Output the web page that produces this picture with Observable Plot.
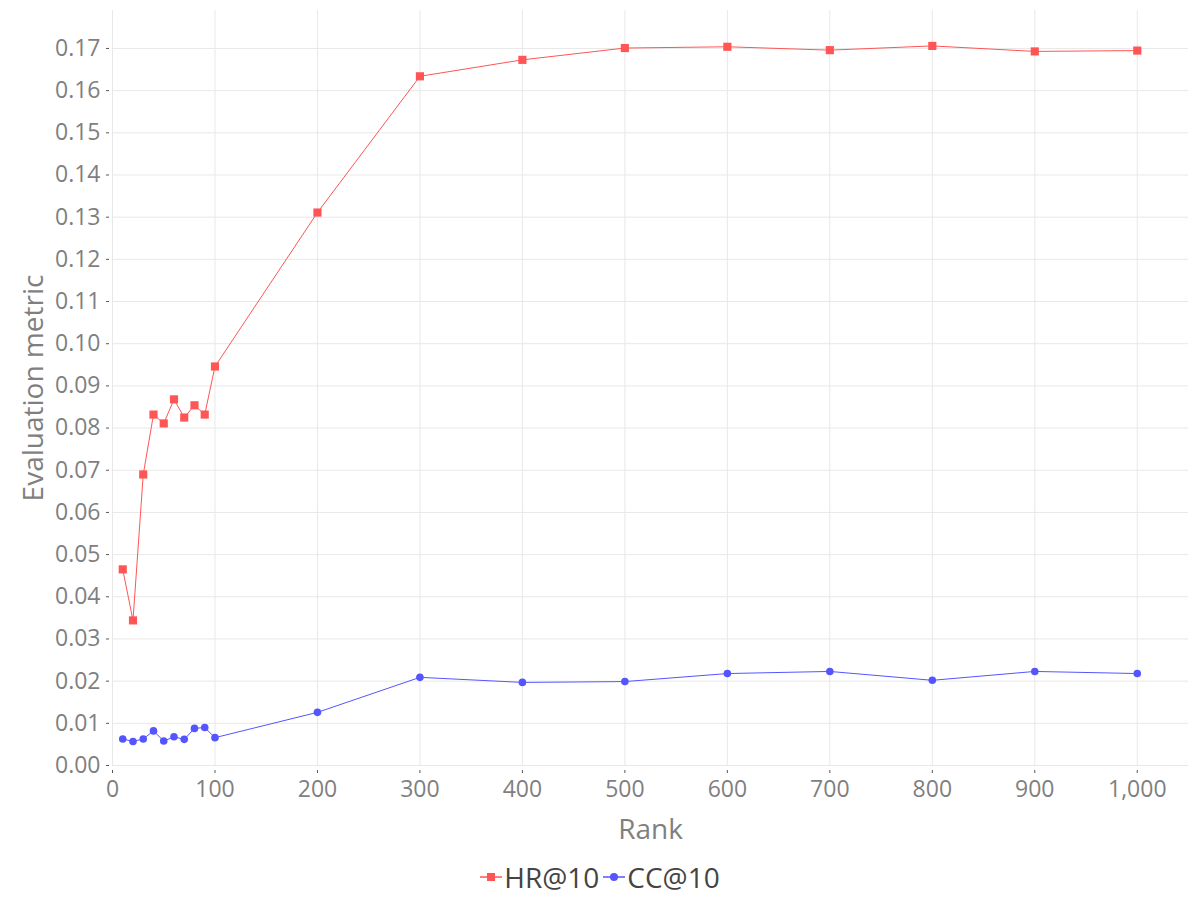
<!DOCTYPE html>
<html>
<head>
<meta charset="utf-8">
<script src="https://cdn.jsdelivr.net/npm/d3@7"></script>
<script src="https://cdn.jsdelivr.net/npm/@observablehq/plot@0.6"></script>
<style>
  body { margin: 0; background: #fff; font-family: "Open Sans", sans-serif; }
  #chart svg { display: block; }
  .legend { display: flex; justify-content: center; align-items: center; font-size: 28px; color: #444; margin-top: -3px; height: 40px; }
  .legend span.item { display: inline-flex; align-items: center; margin: 0 2px; }
  .legend svg { margin-right: 2px; }
</style>
</head>
<body>
<div id="chart"></div>
<div class="legend" id="legend"></div>
<script>
const ranks = [10, 20, 30, 40, 50, 60, 70, 80, 90, 100, 200, 300, 400, 500, 600, 700, 800, 900, 1000];
const hr = [0.0465, 0.0344, 0.0690, 0.0832, 0.0811, 0.0868, 0.0825, 0.0854, 0.0832, 0.0946, 0.1311, 0.1634, 0.1673, 0.1701, 0.1704, 0.1696, 0.1706, 0.1693, 0.1695];
const cc = [0.0063, 0.0057, 0.0063, 0.0082, 0.0058, 0.0068, 0.0062, 0.0088, 0.0090, 0.0066, 0.0126, 0.0209, 0.0197, 0.0199, 0.0218, 0.0223, 0.0202, 0.0223, 0.0218];
const seriesNames = ["HR@10", "CC@10"];
const seriesColors = ["#ff5555", "#5555ff"];
const xTicks = [0, 100, 200, 300, 400, 500, 600, 700, 800, 900, 1000];
const yTicks = d3.range(0, 18).map(i => i / 100);

const hrData = ranks.map((r, i) => ({rank: r, value: hr[i]}));
const ccData = ranks.map((r, i) => ({rank: r, value: cc[i]}));

const plot = Plot.plot({
  width: 1200,
  height: 860,
  marginLeft: 112,
  marginRight: 12,
  marginTop: 10,
  marginBottom: 95,
  style: {fontFamily: "Open Sans", fontSize: "23px", color: "#7f7f7f", background: "#fff"},
  x: {domain: [0, 1050]},
  y: {domain: [0, 0.179]},
  marks: [
    Plot.gridX(xTicks, {stroke: "#e8e8e8", strokeOpacity: 1}),
    Plot.gridY(yTicks, {stroke: "#e8e8e8", strokeOpacity: 1}),
    Plot.axisX(xTicks, {tickFormat: d3.format(","), tickSize: 3, tickPadding: 7, stroke: "#555", fill: "#7f7f7f", fontSize: 23, dy: 5, label: null}),
    Plot.axisY(yTicks, {tickFormat: d3.format(".2f"), tickSize: 3, tickPadding: 6, stroke: "#555", fill: "#7f7f7f", fontSize: 23, dx: -3, label: null}),
    Plot.text(["Rank"], {frameAnchor: "bottom", dy: 73, fontSize: 28, fill: "#7f7f7f", text: d => d}),
    Plot.text(["Evaluation metric"], {frameAnchor: "left", textAnchor: "middle", dx: -78, rotate: -90, fontSize: 28, fill: "#7f7f7f", text: d => d}),
    Plot.line(hrData, {x: "rank", y: "value", stroke: seriesColors[0], strokeWidth: 1}),
    Plot.dot(hrData, {x: "rank", y: "value", symbol: "square", r: 4.6, fill: seriesColors[0], stroke: "none"}),
    Plot.line(ccData, {x: "rank", y: "value", stroke: seriesColors[1], strokeWidth: 1}),
    Plot.dot(ccData, {x: "rank", y: "value", symbol: "circle", r: 3.8, fill: seriesColors[1], stroke: "none"})
  ]
});
document.getElementById("chart").appendChild(plot);

const legend = document.getElementById("legend");
seriesNames.forEach((name, i) => {
  const item = document.createElement("span");
  item.className = "item";
  const sym = i === 0
    ? `<rect x="7" y="6" width="8" height="8" fill="${seriesColors[i]}"/>`
    : `<circle cx="11" cy="10" r="4" fill="${seriesColors[i]}"/>`;
  item.innerHTML = `<svg width="22" height="20"><line x1="0" x2="22" y1="10" y2="10" stroke="${seriesColors[i]}" stroke-width="1.5"/>${sym}</svg>${name}`;
  legend.appendChild(item);
});
</script>
</body>
</html>
